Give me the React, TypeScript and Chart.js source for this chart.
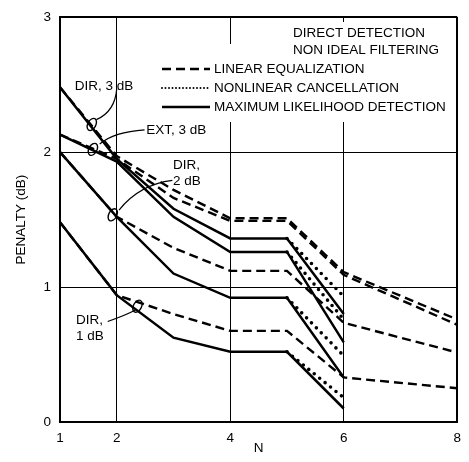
import React, { useEffect, useRef } from "react";
import { Chart, registerables } from "chart.js";

Chart.register(...registerables);

const FONT = '"Liberation Sans", Arial, Helvetica, sans-serif';

// N values at which the curves were read
const N_VALUES = [1, 2, 3, 4, 5, 6, 8];
const X_TICKS = [1, 2, 4, 6, 8];
const Y_TICKS = [0, 1, 2, 3];

// DIR, 3 dB
const DIR3_LINEAR = [2.48, 1.97, 1.72, 1.51, 1.51, 1.11, 0.76];
const DIR3_NONLINEAR = [null, null, null, null, 1.36, 0.93, null];
const DIR3_ML = [2.48, 1.95, 1.58, 1.36, 1.36, 0.8, null];
// EXT, 3 dB
const EXT3_LINEAR = [2.13, 1.95, 1.66, 1.49, 1.49, 1.09, 0.72];
const EXT3_NONLINEAR = [null, null, null, null, 1.26, 0.76, null];
const EXT3_ML = [2.13, 1.93, 1.52, 1.26, 1.26, 0.59, null];
// DIR, 2 dB
const DIR2_LINEAR = [2.0, 1.52, 1.29, 1.12, 1.12, 0.735, 0.515];
const DIR2_NONLINEAR = [null, null, null, null, 0.92, 0.49, null];
const DIR2_ML = [2.0, 1.52, 1.1, 0.92, 0.92, 0.33, null];
// DIR, 1 dB
const DIR1_LINEAR = [1.48, 0.94, 0.8, 0.675, 0.675, 0.33, 0.25];
const DIR1_NONLINEAR = [null, null, null, null, 0.52, 0.18, null];
const DIR1_ML = [1.48, 0.94, 0.625, 0.52, 0.52, 0.1, null];

const LEGEND_TITLE = ["DIRECT DETECTION", "NON IDEAL FILTERING"];
const LEGEND_ITEMS = [
  "LINEAR EQUALIZATION",
  "NONLINEAR CANCELLATION",
  "MAXIMUM LIKELIHOOD DETECTION",
];

// annotation labels (in data coordinates)
const ANNOTATIONS = [
  { lines: ["DIR, 3 dB"], at: [1.26, 2.49], from: [2.0, 2.47], ctrl: [1.97, 2.3], to: [1.64, 2.24], loop: [1.56, 2.205] },
  { lines: ["EXT, 3 dB"], at: [2.52, 2.165], from: [2.49, 2.165], ctrl: [1.95, 2.15], to: [1.7, 2.06], loop: [1.58, 2.02] },
  { lines: ["DIR,", "2 dB"], at: [2.99, 1.9], from: [2.98, 1.79], ctrl: [2.4, 1.76], to: [2.04, 1.57], loop: [1.93, 1.535] },
  { lines: ["DIR,", "1 dB"], at: [1.28, 0.75], from: [1.84, 0.745], ctrl: [2.15, 0.79], to: [2.33, 0.83], loop: [2.365, 0.858] },
];

const DASH = [9, 5];
const DOT = [0, 7];

function toPoints(vals: (number | null)[]) {
  return N_VALUES.map((n, i) => ({ x: n, y: vals[i] })).filter((p) => p.y !== null);
}

function solid(vals: (number | null)[]) {
  return {
    data: toPoints(vals),
    borderColor: "#000",
    borderWidth: 2.5,
    pointRadius: 0,
    tension: 0,
    fill: false,
  };
}
function dashed(vals: (number | null)[]) {
  return { ...solid(vals), borderDash: DASH, borderWidth: 2.4 };
}
function dotted(vals: (number | null)[]) {
  return { ...solid(vals), borderDash: DOT, borderWidth: 3.6, borderCapStyle: "round" };
}

const overlayPlugin = {
  id: "overlay",
  afterDraw(chart: any) {
    const ctx = chart.ctx;
    const xs = chart.scales.x;
    const ys = chart.scales.y;
    const px = (v: number) => xs.getPixelForValue(v);
    const py = (v: number) => ys.getPixelForValue(v);
    ctx.save();
    // legend block
    ctx.fillStyle = "#fff";
    ctx.fillRect(158, 44, 298, 78);
    ctx.fillRect(288, 22, 168, 24);
    ctx.fillStyle = "#000";
    ctx.font = `13.5px ${FONT}`;
    ctx.textBaseline = "middle";
    ctx.textAlign = "left";
    ctx.fillText(LEGEND_TITLE[0], 293, 33);
    ctx.fillText(LEGEND_TITLE[1], 293, 50);
    const rows = [69, 88, 107];
    LEGEND_ITEMS.forEach((t, i) => {
      const y = rows[i];
      ctx.beginPath();
      ctx.lineWidth = 2.4;
      ctx.strokeStyle = "#000";
      if (i === 0) {
        ctx.setLineDash(DASH);
        ctx.lineCap = "butt";
      } else if (i === 1) {
        ctx.setLineDash([0, 3.5]);
        ctx.lineCap = "round";
        ctx.lineWidth = 2;
      } else {
        ctx.setLineDash([]);
        ctx.lineCap = "butt";
      }
      ctx.moveTo(162, y);
      ctx.lineTo(210, y);
      ctx.stroke();
      ctx.fillText(t, 214, y + 0.5);
    });
    ctx.setLineDash([]);
    ctx.lineCap = "butt";
    // annotations
    ANNOTATIONS.forEach((a) => {
      ctx.fillStyle = "#000";
      a.lines.forEach((l, i) => {
        ctx.fillText(l, px(a.at[0]), py(a.at[1]) + i * 16);
      });
      ctx.beginPath();
      ctx.lineWidth = 1.2;
      ctx.moveTo(px(a.from[0]), py(a.from[1]));
      ctx.quadraticCurveTo(px(a.ctrl[0]), py(a.ctrl[1]), px(a.to[0]), py(a.to[1]));
      ctx.stroke();
      ctx.beginPath();
      ctx.lineWidth = 1.4;
      ctx.ellipse(px(a.loop[0]), py(a.loop[1]), 4, 6.5, 0.5, 0, Math.PI * 2);
      ctx.stroke();
    });
    ctx.restore();
  },
};

export default function App() {
  const ref = useRef<HTMLCanvasElement | null>(null);
  useEffect(() => {
    document.body.style.margin = "0";
    const canvas = ref.current;
    if (!canvas) return;
    const chart = new Chart(canvas, {
      type: "line",
      data: {
        datasets: [
          solid(DIR3_ML),
          solid(EXT3_ML),
          solid(DIR2_ML),
          solid(DIR1_ML),
          dashed(DIR3_LINEAR),
          dashed(EXT3_LINEAR),
          dashed(DIR2_LINEAR),
          dashed(DIR1_LINEAR),
          dotted(DIR3_NONLINEAR),
          dotted(EXT3_NONLINEAR),
          dotted(DIR2_NONLINEAR),
          dotted(DIR1_NONLINEAR),
        ] as any,
      },
      options: {
        animation: false,
        responsive: false,
        devicePixelRatio: 1,
        layout: { padding: { top: 14, right: 9, left: 0, bottom: 0 } },
        plugins: { legend: { display: false }, tooltip: { enabled: false } },
        scales: {
          x: {
            type: "linear",
            min: 1,
            max: 8,
            afterBuildTicks: (s: any) => {
              s.ticks = X_TICKS.map((v) => ({ value: v }));
            },
            afterFit: (s: any) => {
              s.height = 40;
            },
            grid: {
              color: "#000",
              lineWidth: (c: any) => (c.tick && (c.tick.value === 1 || c.tick.value === 8) ? 2 : 1),
              drawTicks: false,
            },
            border: { display: true, color: "#000", width: 2 },
            ticks: {
              color: "#000",
              font: { family: FONT, size: 13.5 },
              padding: 8,
              maxRotation: 0,
              autoSkip: false,
            },
            title: {
              display: true,
              text: "N",
              color: "#000",
              font: { family: FONT, size: 13.5 },
              padding: { top: 0, bottom: 6 },
            },
          },
          y: {
            type: "linear",
            min: 0,
            max: 3,
            afterBuildTicks: (s: any) => {
              s.ticks = Y_TICKS.map((v) => ({ value: v }));
            },
            afterFit: (s: any) => {
              s.width = 60;
            },
            grid: {
              color: "#000",
              lineWidth: (c: any) => (c.tick && (c.tick.value === 0 || c.tick.value === 3) ? 2 : 1),
              drawTicks: false,
            },
            border: { display: true, color: "#000", width: 2 },
            ticks: {
              color: "#000",
              font: { family: FONT, size: 13.5 },
              padding: 9,
              autoSkip: false,
            },
            title: {
              display: true,
              text: "PENALTY (dB)",
              color: "#000",
              font: { family: FONT, size: 13.5 },
              padding: { top: 13, bottom: 0 },
            },
          },
        },
      },
      plugins: [overlayPlugin],
    } as any);
    return () => chart.destroy();
  }, []);
  return (
    <div style={{ position: "fixed", left: 0, top: 0, width: 469, height: 462, background: "#fff" }}>
      <canvas ref={ref} width={469} height={462} style={{ display: "block", width: 469, height: 462 }} />
    </div>
  );
}
